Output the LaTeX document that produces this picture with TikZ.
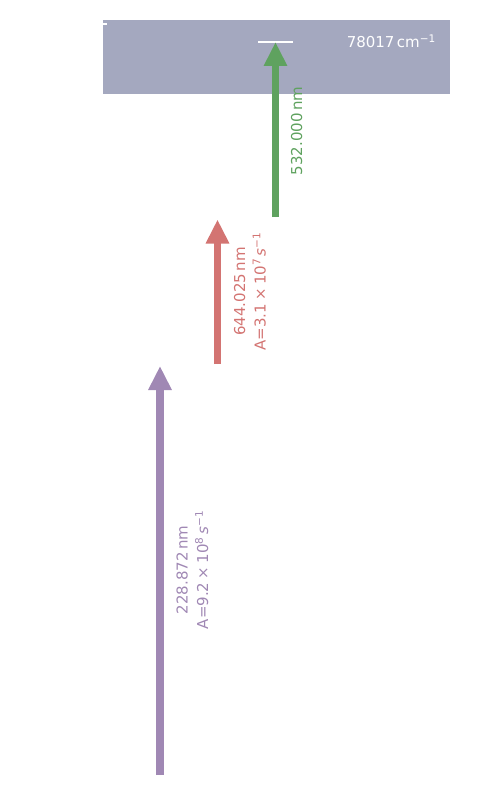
\documentclass[tikz,border=0pt]{standalone}
\usepackage{fontspec}
\setmainfont{DejaVu Sans}
\usetikzlibrary{arrows.meta}
\definecolor{bandgrey}{RGB}{164,168,191}
\definecolor{tgreen}{RGB}{95,162,95}
\definecolor{tred}{RGB}{211,116,114}
\definecolor{tpurple}{RGB}{160,136,180}
\newcommand{\tms}{\hspace{0.22em}×\hspace{0.22em}}
\tikzset{
  trans/.style={line width=7.5pt, -{Triangle[length=24pt,width=22pt]}},
  lbl/.style={rotate=90, anchor=base, inner sep=0pt, font=\fontsize{15pt}{17pt}\selectfont},
  level/.style={draw=white, line width=1.8pt},
}
\begin{document}
\begin{tikzpicture}[x=1pt,y=-1pt]
\useasboundingbox (0,0) rectangle (500,800);
\fill[bandgrey] (102.7,20) rectangle (450,93.5);
\draw[level, line width=1.2pt] (103,24) -- (107,24);
\coordinate (up1) at (258,41.8);
\coordinate (up2) at (293,41.8);
\draw[level] (up1) -- (up2);
\node[anchor=base east, inner sep=0pt, text=white, font=\fontsize{15pt}{17pt}\selectfont] (e) at (436,48) {78017\,cm\textsuperscript{−1}};
% green
\coordinate (g0) at (275.5,217);
\coordinate (g1) at (275.5,42);
\draw[trans, draw=tgreen, fill=tgreen] (g0) -- (g1);
\node[lbl, text=tgreen] (gl) at (302,131) {532.000\,nm};
% red
\coordinate (r0) at (217.5,364);
\coordinate (r1) at (217.5,219.5);
\draw[trans, draw=tred, fill=tred] (r0) -- (r1);
\node[lbl, text=tred] (rl1) at (245,291.5) {644.025\,nm};
\node[lbl, text=tred] (rl2) at (265.5,291.5) {A=3.1\tms10\textsuperscript{7}\,\textit{s}\textsuperscript{−1}};
% purple
\coordinate (p0) at (160,775);
\coordinate (p1) at (160,366);
\draw[trans, draw=tpurple, fill=tpurple] (p0) -- (p1);
\node[lbl, text=tpurple] (pl1) at (187.5,570) {228.872\,nm};
\node[lbl, text=tpurple] (pl2) at (208,570) {A=9.2\tms10\textsuperscript{8}\,\textit{s}\textsuperscript{−1}};
\end{tikzpicture}
\end{document}
